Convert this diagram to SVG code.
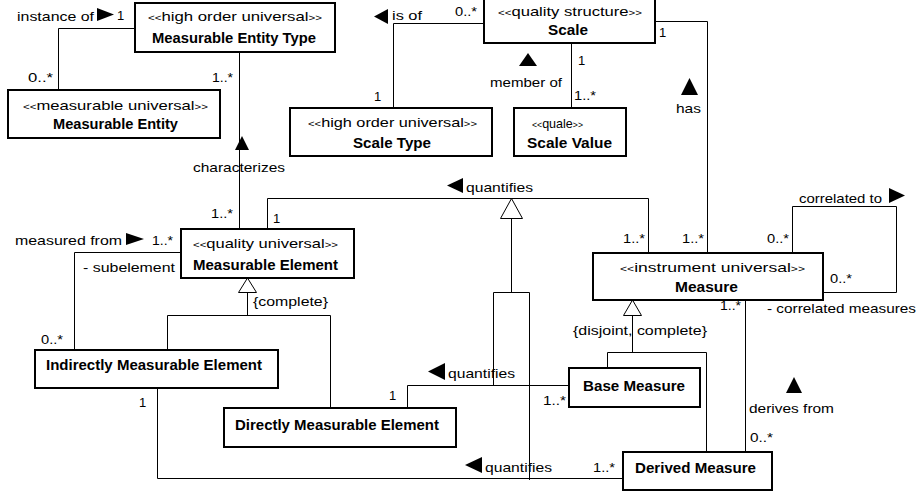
<svg xmlns="http://www.w3.org/2000/svg" width="921" height="492" viewBox="0 0 921 492">
<style>
.box{fill:#fff;stroke:#000;stroke-width:2}
.ln{fill:none;stroke:#000;stroke-width:1}
.t{font-family:"Liberation Sans",Arial,sans-serif;font-size:13px;fill:#000}
.b{font-family:"Liberation Sans",Arial,sans-serif;font-size:15px;font-weight:bold;fill:#000}
.g{font-size:9px}
.tri{fill:#000}
.gen{fill:#fff;stroke:#000;stroke-width:1}
</style>
<rect width="921" height="492" fill="#fff"/>
<g id="connectors">
  <polyline class="ln" points="135,28.5 58.5,28.5 58.5,90"/>
  <line class="ln" x1="239.5" y1="52" x2="239.5" y2="229"/>
  <polyline class="ln" points="484,23.5 393.5,23.5 393.5,108"/>
  <line class="ln" x1="571.5" y1="43" x2="571.5" y2="108"/>
  <polyline class="ln" points="655,21.5 707.5,21.5 707.5,253"/>
  <polyline class="ln" points="267.5,229 267.5,198.5 648.5,198.5 648.5,253"/>
  <polygon class="gen" points="511.5,198.5 500.5,218.5 522.5,218.5"/>
  <polyline class="ln" points="511.5,218.5 511.5,292.5"/>
  <polyline class="ln" points="493.5,385.5 493.5,292.5 529.5,292.5 529.5,480"/>
  <polyline class="ln" points="407.5,408 407.5,385.5 569,385.5"/>
  <polyline class="ln" points="157.5,388 157.5,478.5 623,478.5"/>
  <polyline class="ln" points="181,252.5 74.5,252.5 74.5,350"/>
  <polygon class="gen" points="247.5,278 238.5,292.5 256.5,292.5"/>
  <polyline class="ln" points="247.5,292.5 247.5,315.5"/>
  <polyline class="ln" points="167.5,350 167.5,315.5 330.5,315.5 330.5,408"/>
  <polygon class="gen" points="632.5,300 623.5,315.5 641.5,315.5"/>
  <polyline class="ln" points="632.5,315.5 632.5,352.5"/>
  <polyline class="ln" points="607.5,368 607.5,352.5 706.5,352.5 706.5,452"/>
  <line class="ln" x1="745.5" y1="300" x2="745.5" y2="452"/>
  <polyline class="ln" points="792.5,253 792.5,206.5 896.5,206.5 896.5,292.5 823,292.5"/>

  <text class="t" x="17" y="21" textLength="77" lengthAdjust="spacingAndGlyphs">instance of</text>
  <polygon class="tri" points="97,8 97,21 114,14.5"/>
  <text class="t" x="117" y="20">1</text>
  <text class="t" x="28" y="82" textLength="25" lengthAdjust="spacingAndGlyphs">0..*</text>
  <text class="t" x="212" y="82" textLength="21" lengthAdjust="spacingAndGlyphs">1..*</text>
  <polygon class="tri" points="235,150 249,150 242,136"/>
  <text class="t" x="193" y="172" textLength="92" lengthAdjust="spacingAndGlyphs">characterizes</text>
  <text class="t" x="211" y="218" textLength="22" lengthAdjust="spacingAndGlyphs">1..*</text>
  <text class="t" x="273" y="223">1</text>

  <text class="t" x="15" y="245" textLength="107" lengthAdjust="spacingAndGlyphs">measured from</text>
  <polygon class="tri" points="126,233 126,245 144,239"/>
  <text class="t" x="152" y="245" textLength="21" lengthAdjust="spacingAndGlyphs">1..*</text>
  <text class="t" x="83" y="272" textLength="92" lengthAdjust="spacingAndGlyphs">- subelement</text>
  <text class="t" x="253" y="306" textLength="75" lengthAdjust="spacingAndGlyphs">{complete}</text>
  <text class="t" x="41" y="344" textLength="22" lengthAdjust="spacingAndGlyphs">0..*</text>
  <text class="t" x="139" y="407">1</text>

  <polygon class="tri" points="388,9 388,24 374,16.5"/>
  <text class="t" x="392" y="20" textLength="30" lengthAdjust="spacingAndGlyphs">is of</text>
  <text class="t" x="455" y="16" textLength="22" lengthAdjust="spacingAndGlyphs">0..*</text>
  <text class="t" x="374" y="101">1</text>
  <polygon class="tri" points="519,66 537,66 528,53"/>
  <text class="t" x="490" y="87" textLength="72" lengthAdjust="spacingAndGlyphs">member of</text>
  <text class="t" x="578" y="65">1</text>
  <text class="t" x="574" y="100" textLength="22" lengthAdjust="spacingAndGlyphs">1..*</text>

  <text class="t" x="659" y="37">1</text>
  <polygon class="tri" points="681,95 698,95 689.5,78"/>
  <text class="t" x="676" y="113" textLength="25" lengthAdjust="spacingAndGlyphs">has</text>
  <text class="t" x="682" y="243" textLength="22" lengthAdjust="spacingAndGlyphs">1..*</text>
  <text class="t" x="623" y="243" textLength="22" lengthAdjust="spacingAndGlyphs">1..*</text>
  <polygon class="tri" points="463,178 463,193 447,185.5"/>
  <text class="t" x="466" y="192" textLength="67" lengthAdjust="spacingAndGlyphs">quantifies</text>

  <text class="t" x="799" y="203" textLength="83" lengthAdjust="spacingAndGlyphs">correlated to</text>
  <polygon class="tri" points="889,188 889,203 905,195.5"/>
  <text class="t" x="767" y="243" textLength="22" lengthAdjust="spacingAndGlyphs">0..*</text>
  <text class="t" x="830" y="283" textLength="22" lengthAdjust="spacingAndGlyphs">0..*</text>
  <text class="t" x="767" y="313" textLength="149" lengthAdjust="spacingAndGlyphs">- correlated measures</text>

  <text class="t" x="720" y="310" textLength="21" lengthAdjust="spacingAndGlyphs">1..*</text>
  <text class="t" x="573" y="335" textLength="134" lengthAdjust="spacingAndGlyphs">{disjoint, complete}</text>
  <polygon class="tri" points="786,393 802,393 794,377"/>
  <text class="t" x="749" y="413" textLength="85" lengthAdjust="spacingAndGlyphs">derives from</text>
  <text class="t" x="750" y="442" textLength="23" lengthAdjust="spacingAndGlyphs">0..*</text>

  <polygon class="tri" points="445,363 445,380 428,371.5"/>
  <text class="t" x="448" y="378" textLength="67" lengthAdjust="spacingAndGlyphs">quantifies</text>
  <text class="t" x="389" y="400">1</text>
  <text class="t" x="543" y="405" textLength="23" lengthAdjust="spacingAndGlyphs">1..*</text>

  <polygon class="tri" points="482,457 482,473 465,465"/>
  <text class="t" x="485" y="472" textLength="67" lengthAdjust="spacingAndGlyphs">quantifies</text>
  <text class="t" x="593" y="472" textLength="22" lengthAdjust="spacingAndGlyphs">1..*</text>
</g>

<g id="measurable-entity-type">
  <rect class="box" x="135" y="3" width="200" height="49"/>
  <text class="t" x="148" y="21" textLength="174" lengthAdjust="spacingAndGlyphs"><tspan class="g">&lt;&lt;</tspan>high order universal<tspan class="g">&gt;&gt;</tspan></text>
  <text class="b" x="152" y="43" textLength="164" lengthAdjust="spacingAndGlyphs">Measurable Entity Type</text>
</g>
<g id="measurable-entity">
  <rect class="box" x="8" y="90" width="212" height="48"/>
  <text class="t" x="23" y="110" textLength="185" lengthAdjust="spacingAndGlyphs"><tspan class="g">&lt;&lt;</tspan>measurable universal<tspan class="g">&gt;&gt;</tspan></text>
  <text class="b" x="53" y="129" textLength="125" lengthAdjust="spacingAndGlyphs">Measurable Entity</text>
</g>
<g id="scale">
  <rect class="box" x="484" y="-2" width="171" height="45"/>
  <text class="t" x="498" y="16" textLength="144" lengthAdjust="spacingAndGlyphs"><tspan class="g">&lt;&lt;</tspan>quality structure<tspan class="g">&gt;&gt;</tspan></text>
  <text class="b" x="548" y="35" textLength="40" lengthAdjust="spacingAndGlyphs">Scale</text>
</g>
<g id="scale-type">
  <rect class="box" x="290" y="108" width="202" height="48"/>
  <text class="t" x="308" y="127" textLength="169" lengthAdjust="spacingAndGlyphs"><tspan class="g">&lt;&lt;</tspan>high order universal<tspan class="g">&gt;&gt;</tspan></text>
  <text class="b" x="353" y="148" textLength="78" lengthAdjust="spacingAndGlyphs">Scale Type</text>
</g>
<g id="scale-value">
  <rect class="box" x="514" y="108" width="112" height="48"/>
  <text class="t" x="532" y="128" textLength="51" lengthAdjust="spacingAndGlyphs"><tspan class="g">&lt;&lt;</tspan>quale<tspan class="g">&gt;&gt;</tspan></text>
  <text class="b" x="527" y="148" textLength="85" lengthAdjust="spacingAndGlyphs">Scale Value</text>
</g>
<g id="measurable-element">
  <rect class="box" x="181" y="229" width="173" height="49"/>
  <text class="t" x="193" y="248" textLength="145" lengthAdjust="spacingAndGlyphs"><tspan class="g">&lt;&lt;</tspan>quality universal<tspan class="g">&gt;&gt;</tspan></text>
  <text class="b" x="193" y="270" textLength="145" lengthAdjust="spacingAndGlyphs">Measurable Element</text>
</g>
<g id="measure">
  <rect class="box" x="593" y="253" width="230" height="47"/>
  <text class="t" x="620" y="272" textLength="185" lengthAdjust="spacingAndGlyphs"><tspan class="g">&lt;&lt;</tspan>instrument universal<tspan class="g">&gt;&gt;</tspan></text>
  <text class="b" x="675" y="292" textLength="63" lengthAdjust="spacingAndGlyphs">Measure</text>
</g>
<g id="indirectly-measurable-element">
  <rect class="box" x="35" y="350" width="243" height="38"/>
  <text class="b" x="46" y="370" textLength="216" lengthAdjust="spacingAndGlyphs">Indirectly Measurable Element</text>
</g>
<g id="directly-measurable-element">
  <rect class="box" x="224" y="408" width="232" height="39"/>
  <text class="b" x="235" y="430" textLength="204" lengthAdjust="spacingAndGlyphs">Directly Measurable Element</text>
</g>
<g id="base-measure">
  <rect class="box" x="569" y="368" width="131" height="39"/>
  <text class="b" x="583" y="391" textLength="102" lengthAdjust="spacingAndGlyphs">Base Measure</text>
</g>
<g id="derived-measure">
  <rect class="box" x="623" y="452" width="149" height="38"/>
  <text class="b" x="635" y="473" textLength="121" lengthAdjust="spacingAndGlyphs">Derived Measure</text>
</g>
</svg>
